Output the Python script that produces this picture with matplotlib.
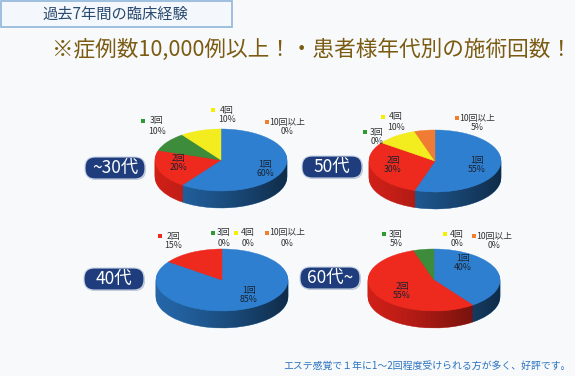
import numpy as np
import matplotlib; matplotlib.use("Agg"); import matplotlib.pyplot as plt
from matplotlib.patches import Wedge, Rectangle, FancyBboxPatch, Polygon
from matplotlib.transforms import Affine2D

plt.rcParams['font.family'] = ['Noto Sans CJK JP', 'DejaVu Sans']

# ---- data: share of patients by number of treatments, per age group ----
ages = ["~30代", "40代", "50代", "60代~"]
cats = ["1回", "2回", "3回", "4回", "10回以上"]
s30 = [60, 20, 10, 10, 0]
s40 = [85, 15, 0, 0, 0]
s50 = [55, 30, 0, 10, 5]
s60 = [40, 55, 5, 0, 0]
shares = [s30, s40, s50, s60]

top_col  = ["#2e7fcf", "#ee2a1f", "#3c8c3c", "#f3ec1e", "#f07b32"]
side_col = ["#2466a8", "#cf2018", "#2f6e2f", "#cfc818", "#c8602a"]
dot_col  = ["#2e7fcf", "#ee2a1f", "#2f9a2f", "#f5f000", "#f08030"]

# ---- layout (pixels): badge centre, pie centre/radii, label spots ----
badge = [(115, 168), (114, 279), (332, 167), (330, 278)]
pie = [(221, 160), (222, 280), (435, 161), (434, 280)]
RX, RY, DEPTH = 66, 31, 17
# inside labels: idx -> (x, y of first line)
inside = [{0: (265, 165), 1: (178, 158)},
          {0: (249, 290)},
          {0: (477, 161), 1: (393, 160)},
          {0: (463, 258), 1: (402, 287)}]
# outside labels: idx -> (bullet x, text centre x, y of first line)
outside = [{2: (143, 157, 121), 3: (213, 227, 110), 4: (267, 287, 122)},
           {1: (160, 173, 236), 2: (213, 224, 233), 3: (236, 248, 233), 4: (267, 287, 233)},
           {2: (365, 377, 132), 3: (383, 396, 117), 4: (457, 477, 118)},
           {2: (384, 396, 234), 3: (445, 457, 234), 4: (474, 494, 236)}]

fig = plt.figure(figsize=(5.75, 3.76), dpi=100, facecolor="#f7f9fb")
ax = fig.add_axes([0, 0, 1, 1])
ax.set_xlim(0, 575); ax.set_ylim(376, 0); ax.axis("off")

# header box + headlines
ax.add_patch(Rectangle((1, 1), 231, 26, fc="#f4f7fb", ec="#8fb5da", lw=1.2))
ax.text(115, 14, "過去7年間の臨床経験", ha="center", va="center", fontsize=11, color="#2a4a70")
ax.text(52, 50, "※症例数10,000例以上！・患者様年代別の施術回数！", ha="left", va="center",
        fontsize=15.6, color="#7b5b12")
ax.text(283, 366, "エステ感覚で１年に1～2回程度受けられる方が多く、好評です。", ha="left", va="center",
        fontsize=7.1, color="#2a72c0")

def draw_pie(cx, cy, vals):
    fr = np.array(vals, float) / sum(vals)
    c = np.concatenate([[0], np.cumsum(fr)])
    # side wall as stacked layers, then top face
    for d in list(range(DEPTH, 0, -1)) + [0]:
        tr = Affine2D().scale(RX, -RY).translate(cx, cy + d) + ax.transData
        for i, f in enumerate(fr):
            if f <= 0: continue
            col = top_col[i] if d == 0 else side_col[i]
            ax.add_patch(Wedge((0, 0), 1, 90 - 360*c[i+1], 90 - 360*c[i], transform=tr,
                               fc=col, ec=col, lw=0.3, zorder=2 if d == 0 else 1))
    # darken the wall toward the right
    t = np.linspace(0, np.pi, 80)
    pts = np.r_[np.c_[cx + RX*np.cos(t), cy + RY*np.sin(t)],
                np.c_[cx + RX*np.cos(t[::-1]), cy + DEPTH + RY*np.sin(t[::-1])]]
    clip = Polygon(pts, closed=True, fc="none", ec="none", transform=ax.transData)
    ax.add_patch(clip)
    g = np.zeros((2, 200, 4)); g[..., 3] = np.linspace(0.0, 0.65, 200) ** 1.3
    im = ax.imshow(g, extent=(cx - RX, cx + RX, cy + RY + DEPTH, cy), aspect="auto",
                   zorder=1.5, interpolation="bilinear")
    im.set_clip_path(clip)

for k in range(4):
    cx, cy = pie[k]
    draw_pie(cx, cy, shares[k])
    for i, (x, y) in inside[k].items():
        ax.text(x, y, cats[i], ha="center", va="center", fontsize=6.3, color="#1a2230", zorder=5)
        ax.text(x, y + 9, "%d%%" % shares[k][i], ha="center", va="center", fontsize=6.3,
                color="#1a2230", zorder=5)
    for i, (bx, tx, y) in outside[k].items():
        ax.scatter([bx], [y], s=5, marker="s", color=dot_col[i], lw=0, zorder=5)
        ax.text(tx, y, cats[i], ha="center", va="center", fontsize=6.3, color="#333333", zorder=5)
        ax.text(tx, y + 10, "%d%%" % shares[k][i], ha="center", va="center", fontsize=6.3,
                color="#333333", zorder=5)
    bx, by = badge[k]
    ax.add_patch(FancyBboxPatch((bx - 29, by - 10), 60, 22, boxstyle="round,pad=0,rounding_size=10",
                                fc="#9aa0a8", ec="none", alpha=0.6, zorder=3))
    ax.add_patch(FancyBboxPatch((bx - 30, by - 11), 60, 22, boxstyle="round,pad=0,rounding_size=10",
                                fc="#1f3d7c", ec="#c8d4e8", lw=0.8, zorder=4))
    ax.text(bx, by, ages[k], ha="center", va="center", fontsize=12.5, color="white", zorder=5)

fig.savefig("out.png", dpi=100, facecolor=fig.get_facecolor())
